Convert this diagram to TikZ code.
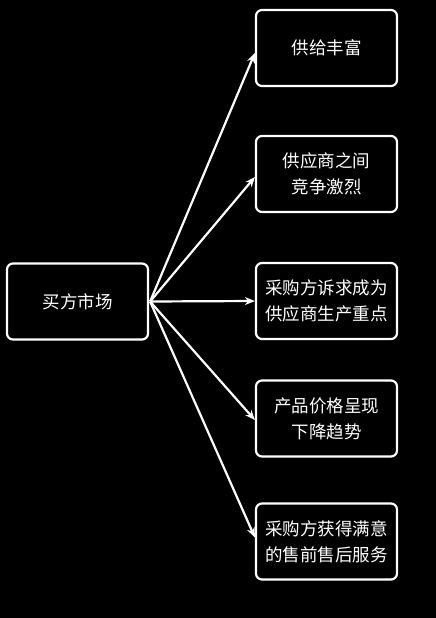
\documentclass[tikz,border=0pt]{standalone}
\usepackage{fontspec}
\newfontfamily\cjk{Noto Sans CJK SC}
\usetikzlibrary{arrows.meta}
\begin{document}
\begin{tikzpicture}[x=1pt,y=-1pt,
  box/.style={draw=white, line width=2.2pt, rounded corners=6pt, minimum width=141pt, minimum height=76pt,
    text=white, font=\cjk\fontsize{17.5}{26}\selectfont, align=center, inner sep=0pt},
  conn/.style={draw=white, line width=2.2pt, -{Stealth[length=10pt,width=8pt]}}]
\fill[black] (0,0) rectangle (436,618);
\useasboundingbox (0,0) rectangle (436,618);
\node[box] (a) at (77.5,301.5) {买方市场};
\node[box] (b1) at (326.5,48) {供给丰富};
\node[box] (b2) at (326.5,174) {供应商之间\\竞争激烈};
\node[box] (b3) at (326.5,301) {采购方诉求成为\\供应商生产重点};
\node[box] (b4) at (326.5,418.5) {产品价格呈现\\下降趋势};
\node[box] (b5) at (326.5,541.5) {采购方获得满意\\的售前售后服务};
\coordinate (o) at ([xshift=1pt]a.east);
\draw[conn] (o) -- ([yshift=-5pt]b1.west);
\draw[conn] (o) -- ([yshift=-3pt]b2.west);
\draw[conn] (o) -- (b3.west);
\draw[conn] (o) -- ([yshift=-1.5pt]b4.west);
\draw[conn] (o) -- ([yshift=4pt]b5.west);
\end{tikzpicture}
\end{document}
